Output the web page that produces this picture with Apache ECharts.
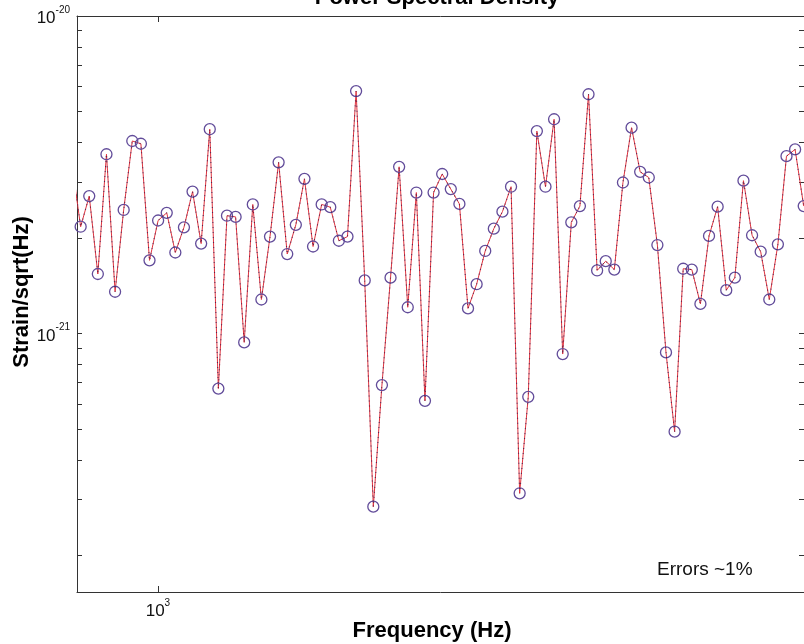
<!DOCTYPE html>
<html>
<head>
<meta charset="utf-8">
<script src="https://cdn.jsdelivr.net/npm/echarts@6/dist/echarts.min.js"></script>
<style>
html,body{margin:0;padding:0;background:#fff;}
#chart{width:804px;height:644px;}
</style>
</head>
<body>
<div id="chart"></div>
<script>
// Frequencies (Hz)
var frequencies = [761.8, 782.9, 804.5, 826.7, 849.6, 873.1, 897.2, 922.0, 947.5, 973.7,
  1000.6, 1028.3, 1056.7, 1085.9, 1115.9, 1146.7, 1178.4, 1211.0, 1244.5, 1278.9,
  1314.2, 1350.5, 1387.8, 1426.2, 1465.6, 1506.1, 1547.7, 1590.5, 1634.5, 1679.7,
  1726.1, 1773.8, 1822.8, 1873.2, 1925.0, 1978.2, 2032.9, 2089.1, 2146.8, 2206.1,
  2267.1, 2329.8, 2394.2, 2460.4, 2528.4, 2598.3, 2670.1, 2743.9, 2819.7, 2897.6,
  2977.7, 3060.0, 3144.6, 3231.5, 3320.8, 3412.6, 3506.9, 3603.8, 3703.4, 3805.8,
  3911.0, 4019.1, 4130.2, 4244.3, 4361.6, 4482.2, 4606.1, 4733.4, 4864.2, 4998.6,
  5136.8, 5278.8, 5424.7, 5574.6, 5728.7, 5887.0, 6049.7, 6216.9, 6388.7, 6565.3,
  6746.7, 6933.2, 7124.8, 7321.7, 7524.1, 7732.0];
// Strain/sqrt(Hz)
var strain = [3.40e-21, 2.17e-21, 2.71e-21, 1.54e-21, 3.67e-21, 1.354e-21, 2.45e-21, 4.04e-21, 3.96e-21, 1.70e-21,
  2.27e-21, 2.40e-21, 1.80e-21, 2.16e-21, 2.80e-21, 1.92e-21, 4.40e-21, 6.71e-22, 2.35e-21, 2.33e-21,
  9.38e-22, 2.55e-21, 1.28e-21, 2.02e-21, 3.46e-21, 1.78e-21, 2.20e-21, 3.07e-21, 1.88e-21, 2.55e-21,
  2.50e-21, 1.96e-21, 2.02e-21, 5.80e-21, 1.47e-21, 2.85e-22, 6.88e-22, 1.50e-21, 3.35e-21, 1.21e-21,
  2.78e-21, 6.14e-22, 2.78e-21, 3.18e-21, 2.85e-21, 2.56e-21, 1.20e-21, 1.43e-21, 1.82e-21, 2.14e-21,
  2.42e-21, 2.90e-21, 3.14e-22, 6.32e-22, 4.34e-21, 2.90e-21, 4.73e-21, 8.62e-22, 2.24e-21, 2.52e-21,
  5.67e-21, 1.58e-21, 1.69e-21, 1.59e-21, 2.99e-21, 4.45e-21, 3.23e-21, 3.10e-21, 1.90e-21, 8.72e-22,
  4.91e-22, 1.60e-21, 1.59e-21, 1.24e-21, 2.03e-21, 2.51e-21, 1.37e-21, 1.50e-21, 3.03e-21, 2.04e-21,
  1.81e-21, 1.28e-21, 1.91e-21, 3.62e-21, 3.80e-21, 2.52e-21];
// Tick labels / positions
var xLabelValues = [1000];
var xTickValues = [1000];
var yLabelValues = [1e-21, 1e-20];
var yTickValues = [2e-22, 3e-22, 4e-22, 5e-22, 6e-22, 7e-22, 8e-22, 9e-22,
  1e-21, 2e-21, 3e-21, 4e-21, 5e-21, 6e-21, 7e-21, 8e-21, 9e-21, 1e-20];

var xMin = 773.9, xMax = 7739;
var yMin = 1.535e-22, yMax = 1e-20;

var pts = frequencies.map(function (f, i) { return [f, strain[i]]; });

function supLabel(v) {
  var e = Math.round(Math.log10(v));
  if (Math.abs(Math.log10(v) - e) > 1e-6) return '';
  return '{b|10}{s|' + e + '}';
}
var rich = {
  b: { fontSize: 17, fontFamily: 'Liberation Sans, Arial, sans-serif', color: '#111', verticalAlign: 'bottom', lineHeight: 22 },
  s: { fontSize: 10, fontFamily: 'Liberation Sans, Arial, sans-serif', color: '#111', verticalAlign: 'top', lineHeight: 10 }
};
var axisLineStyle = { color: '#333', width: 1 };
var gridRect = { left: 77, right: 0, top: 16, bottom: 52 };
var plotWidth = 804 - 77;

function tickAxisY(gi, offset, inside, showLine) {
  return {
    type: 'log', logBase: 10, min: yMin, max: yMax, position: 'right', gridIndex: gi, offset: offset,
    axisLine: { show: showLine, onZero: false, lineStyle: axisLineStyle },
    axisTick: { show: true, inside: inside, length: 5, customValues: yTickValues, lineStyle: axisLineStyle },
    axisLabel: { show: false }, splitLine: { show: false }, minorTick: { show: false }
  };
}

var chart = echarts.init(document.getElementById('chart'), null, { renderer: 'canvas' });
chart.setOption({
  animation: false,
  backgroundColor: '#fff',
  grid: [gridRect, gridRect],
  xAxis: [{
    type: 'log', logBase: 10, min: xMin, max: xMax, position: 'bottom', gridIndex: 0,
    axisLine: { show: true, lineStyle: axisLineStyle },
    axisTick: { show: true, inside: true, length: 6, customValues: xTickValues, lineStyle: axisLineStyle },
    axisLabel: { show: true, customValues: xLabelValues, formatter: function (v) { return Math.abs(v - 1000) < 1e-6 ? supLabel(1000) : ''; }, rich: rich, margin: 6 },
    splitLine: { show: false }, minorTick: { show: false }
  }, {
    type: 'log', logBase: 10, min: xMin, max: xMax, position: 'top', gridIndex: 0,
    axisLine: { show: true, onZero: false, lineStyle: axisLineStyle },
    axisTick: { show: true, inside: true, length: 6, customValues: xTickValues, lineStyle: axisLineStyle },
    axisLabel: { show: false }, splitLine: { show: false }
  }, {
    type: 'log', logBase: 10, min: xMin, max: xMax, gridIndex: 1, show: false
  }],
  yAxis: [{
    type: 'log', logBase: 10, min: yMin, max: yMax, position: 'left', gridIndex: 0,
    axisLine: { show: true, onZero: false, lineStyle: axisLineStyle },
    axisTick: { show: false },
    axisLabel: { show: true, customValues: yLabelValues, formatter: supLabel, rich: rich, margin: 7 },
    splitLine: { show: false }, minorTick: { show: false }
  }, tickAxisY(0, 0, true, true), tickAxisY(1, -plotWidth, false, false)],
  series: [{
    type: 'line', data: pts, xAxisIndex: 0, yAxisIndex: 0,
    clip: true,
    lineStyle: { color: '#e0343f', width: 1 },
    symbol: 'circle', symbolSize: 11, showSymbol: true,
    itemStyle: { color: 'rgba(255,255,255,0)', borderColor: '#624c9a', borderWidth: 1.3 },
    z: 2
  }, {
    type: 'line', data: pts, xAxisIndex: 0, yAxisIndex: 0,
    clip: true, symbol: 'none',
    lineStyle: { color: '#2a1a50', width: 1.2, type: [1, 4], opacity: 0.7 },
    z: 3, silent: true
  }],
  graphic: [{
    type: 'text', x: 437, y: -2,
    style: { text: 'Power Spectral Density', font: 'bold 22px "Liberation Sans", Arial, sans-serif', fill: '#000', align: 'center', verticalAlign: 'middle' }
  }, {
    type: 'text', x: 432, y: 631,
    style: { text: 'Frequency (Hz)', font: 'bold 22px "Liberation Sans", Arial, sans-serif', fill: '#000', align: 'center', verticalAlign: 'middle' }
  }, {
    type: 'text', x: 22, y: 292, rotation: Math.PI / 2,
    style: { text: 'Strain/sqrt(Hz)', font: 'bold 22px "Liberation Sans", Arial, sans-serif', fill: '#000', align: 'center', verticalAlign: 'middle' }
  }, {
    type: 'text', x: 657, y: 570,
    style: { text: 'Errors ~1%', font: '19px "Liberation Sans", Arial, sans-serif', fill: '#111', align: 'left', verticalAlign: 'middle' }
  }]
});
</script>
</body>
</html>
